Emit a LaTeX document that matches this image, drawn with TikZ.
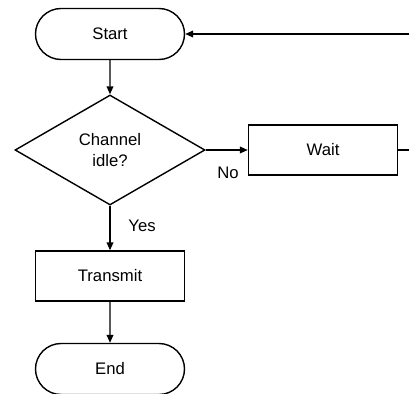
\documentclass[tikz,border=0pt]{standalone}
\usepackage{fontspec}
\setmainfont{Liberation Sans}
\usetikzlibrary{shapes.geometric,shapes.misc,arrows.meta}

\tikzset{
	base/.style = {draw, line width=0.8pt, inner sep=0pt, align=center, font=\fontsize{9.5}{12}\selectfont},
	term/.style = {base, rounded rectangle, minimum width=2.98cm, minimum height=1.02cm},
	proc/.style = {base, rectangle, minimum width=2.98cm, minimum height=1.0cm},
	decide/.style = {base, diamond, minimum width=3.8cm, minimum height=2.2cm},
	arr/.style = {line width=0.8pt, -{Triangle[length=4.5pt,width=3.8pt]}},
	lbl/.style = {font=\fontsize{9.5}{12}\selectfont}
}

\begin{document}
\begin{tikzpicture}
		\useasboundingbox (0,0) rectangle (8.18,-7.86);
		\node[term] (start) at (2.2,-0.68) {Start};
		\node[decide] (chan) at (2.2,-3.0) {Channel\\idle?};
		\node[proc] (wait) at (6.46,-3.0) {Wait};
		\node[proc] (tx) at (2.2,-5.52) {Transmit};
		\node[term] (end) at (2.2,-7.38) {End};
		\node[lbl] (no) at (4.56,-3.46) {No};
		\node[lbl] (yes) at (2.84,-4.52) {Yes};
		\draw[arr] (start) -- (chan);
		\draw[arr] (chan.east) -- (wait.west);
		\draw[arr] (chan.south) -- (tx.north);
		\draw[arr] (tx) -- (end);
		\draw[arr] (wait.east) -- ++(0.6,0) |- (start.east);
	\end{tikzpicture}
\end{document}
